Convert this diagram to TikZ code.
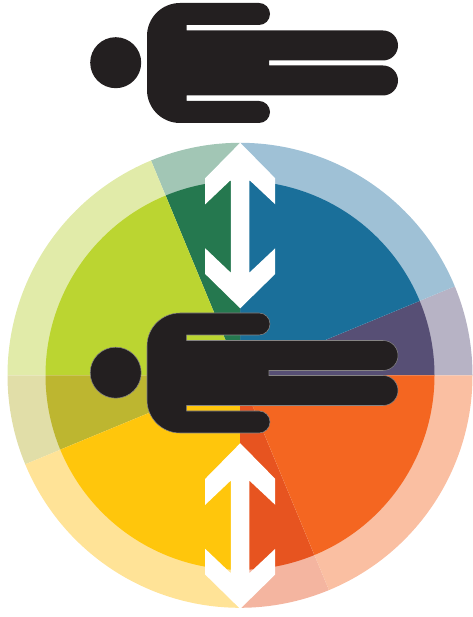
\documentclass[tikz,border=0pt]{standalone}
\definecolor{pa}{HTML}{574F75}\definecolor{pb}{HTML}{B7B3C5}
\definecolor{ba}{HTML}{1A6F9A}\definecolor{bb}{HTML}{9FC1D6}
\definecolor{ga}{HTML}{25784F}\definecolor{gb}{HTML}{A2C6B5}
\definecolor{la}{HTML}{BBD531}\definecolor{lb}{HTML}{E1EBA9}
\definecolor{oa}{HTML}{BDB630}\definecolor{ob}{HTML}{E1DEA8}
\definecolor{ya}{HTML}{FFC60C}\definecolor{yb}{HTML}{FFE397}
\definecolor{ra}{HTML}{E75420}\definecolor{rb}{HTML}{F4B5A0}
\definecolor{na}{HTML}{F46621}\definecolor{nb}{HTML}{FABFA2}
\definecolor{ink}{HTML}{231F20}
\newcommand{\wedgepair}[4]{%
  \fill[#3] (240,241.7) -- ++(#1:232.5) arc[start angle=#1,end angle=#2,radius=232.5] -- cycle;
  \fill[#4] (240,241.7) -- ++(#1:194.5) arc[start angle=#1,end angle=#2,radius=194.5] -- cycle;}
\newcommand{\personshape}[2]{%
  \begin{scope}[yshift=#1]
  \path[#2] (115.7,554.3) circle[radius=25.5];
  \path[#2] (180,614) -- (259,614) arc[start angle=90,end angle=-90,radius=11] -- (186.7,592)
    -- (186.7,586.5) -- (383,586.5) arc[start angle=90,end angle=-90,radius=15] -- (269,556.5)
    -- (269,551.5) -- (383,551.5) arc[start angle=90,end angle=-90,radius=15] -- (186.7,521.5)
    -- (186.7,516) -- (259,516) arc[start angle=90,end angle=-90,radius=11] -- (180,494)
    arc[start angle=270,end angle=180,radius=33] -- (147,581)
    arc[start angle=180,end angle=90,radius=33] -- cycle;
  \end{scope}}
\newcommand{\arrowshape}[1]{%
  \fill[white,yshift=#1] (240.2,474.3) -- (275.2,438.7) -- (275.2,412.7) -- (249.3,437)
    -- (249.3,344.3) -- (275.2,368.7) -- (275.2,343) -- (240.2,308.7) -- (205.2,343)
    -- (205.2,368.7) -- (230.8,344.3) -- (230.8,437) -- (205.2,412.7) -- (205.2,438.7) -- cycle;}
\tikzset{personfill/.style={fill=ink},personedge/.style={fill=ink,draw=ink!55!white,line width=0.4pt}}
\begin{document}
\begin{tikzpicture}[x=0.75pt,y=0.75pt]
\useasboundingbox (0,0) rectangle (472,617);
\wedgepair{0}{22.5}{pb}{pa}
\wedgepair{22.5}{90}{bb}{ba}
\wedgepair{90}{112.5}{gb}{ga}
\wedgepair{112.5}{180}{lb}{la}
\wedgepair{180}{202.5}{ob}{oa}
\wedgepair{202.5}{270}{yb}{ya}
\wedgepair{270}{292.5}{rb}{ra}
\wedgepair{292.5}{360}{nb}{na}
\arrowshape{0}
\arrowshape{-225.4pt}
\personshape{0}{personfill}
\personshape{-232.5pt}{personedge}
\end{tikzpicture}
\end{document}
